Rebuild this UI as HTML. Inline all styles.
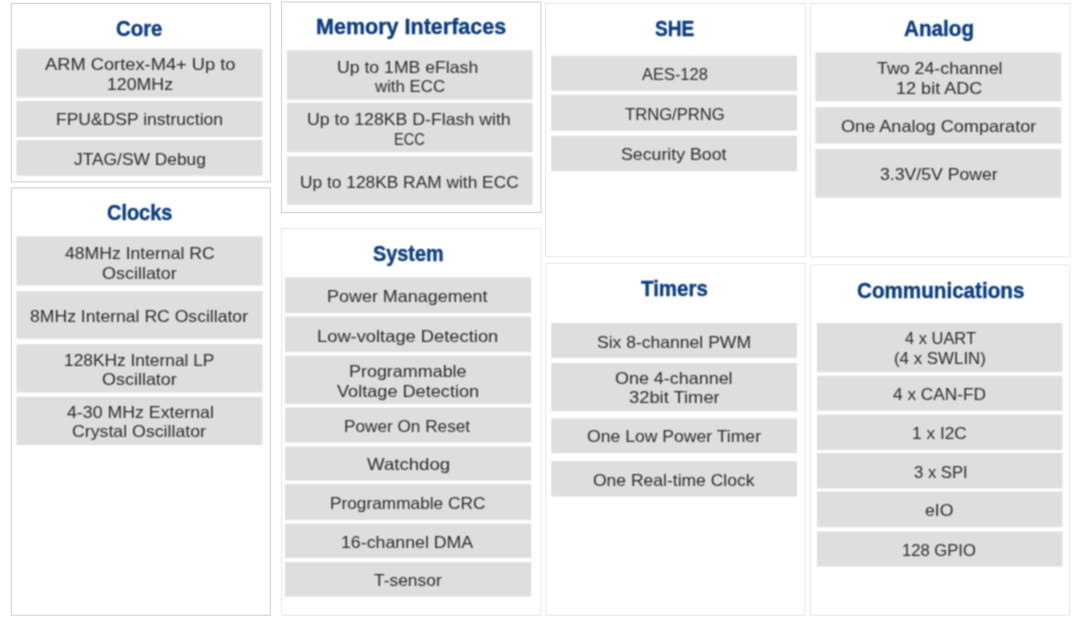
<!DOCTYPE html>
<html lang="en"><head><meta charset="utf-8">
<title>MCU feature block diagram</title>
<style>
html,body{margin:0;padding:0;background:#fff;}
body{width:1080px;height:621px;position:relative;overflow:hidden;font-family:"Liberation Sans",sans-serif;}
#stage{filter:url(#soft);}
#stage{position:absolute;left:0;top:0;width:1080px;height:621px;background:#fff;}
#shapes,#frames{position:absolute;left:0;top:0;}
section,h2,p,span{margin:0;padding:0;}
h2,.l{position:absolute;white-space:nowrap;transform-origin:0 0;display:block;}
h2{font-size:21.5px;line-height:26.0px;font-weight:bold;color:#0a3c7e;-webkit-text-stroke:0.35px #0a3c7e;}
.l{font-size:16.5px;line-height:20.0px;color:#2c2c2c;}
</style></head><body>
<svg width="0" height="0" style="position:absolute" aria-hidden="true"><defs><filter id="soft" x="0" y="0" width="100%" height="100%" color-interpolation-filters="sRGB"><feConvolveMatrix order="3" kernelMatrix="1 2 1 2 4 2 1 2 1" divisor="16" edgeMode="duplicate" preserveAlpha="true"/></filter></defs></svg>
<div id="stage">
<svg id="shapes" width="1080" height="621" viewBox="0 0 1080 621">
<rect x="16.5" y="48.75" width="246" height="48.75" fill="#dedede"/>
<rect x="16.5" y="101" width="246" height="36" fill="#dedede"/>
<rect x="16.5" y="140" width="246" height="35.75" fill="#dedede"/>
<rect x="16.5" y="236.25" width="246" height="49.25" fill="#dedede"/>
<rect x="16.5" y="291.25" width="246" height="47.5" fill="#dedede"/>
<rect x="16.5" y="344.25" width="246" height="48.25" fill="#dedede"/>
<rect x="16.5" y="396.75" width="246" height="48.25" fill="#dedede"/>
<rect x="287" y="50.2" width="245.5" height="49.5" fill="#dedede"/>
<rect x="287" y="102.8" width="245.5" height="49.4" fill="#dedede"/>
<rect x="287" y="156.3" width="245.5" height="48.5" fill="#dedede"/>
<rect x="285" y="277.5" width="246.25" height="35.5" fill="#dedede"/>
<rect x="285" y="316.5" width="246.25" height="35.5" fill="#dedede"/>
<rect x="285" y="355.5" width="246.25" height="48.5" fill="#dedede"/>
<rect x="285" y="407.5" width="246.25" height="35" fill="#dedede"/>
<rect x="285" y="446.5" width="246.25" height="34" fill="#dedede"/>
<rect x="285" y="484" width="246.25" height="36" fill="#dedede"/>
<rect x="285" y="523.5" width="246.25" height="34.5" fill="#dedede"/>
<rect x="285" y="562" width="246.25" height="34.5" fill="#dedede"/>
<rect x="551.25" y="55.7" width="245.75" height="35.1" fill="#dedede"/>
<rect x="551.25" y="94.7" width="245.75" height="36" fill="#dedede"/>
<rect x="551.25" y="135.8" width="245.75" height="35.4" fill="#dedede"/>
<rect x="551.25" y="323" width="245.75" height="35" fill="#dedede"/>
<rect x="551.25" y="363" width="245.75" height="48.25" fill="#dedede"/>
<rect x="551.25" y="418.4" width="245.75" height="34.8" fill="#dedede"/>
<rect x="551.25" y="461" width="245.75" height="35.5" fill="#dedede"/>
<rect x="815.5" y="52.5" width="245.75" height="48.75" fill="#dedede"/>
<rect x="815.5" y="107.1" width="245.75" height="36.4" fill="#dedede"/>
<rect x="815.5" y="148.9" width="245.75" height="48.9" fill="#dedede"/>
<rect x="817" y="323" width="245.5" height="49" fill="#dedede"/>
<rect x="817" y="375.75" width="245.5" height="35" fill="#dedede"/>
<rect x="817" y="414.5" width="245.5" height="35.5" fill="#dedede"/>
<rect x="817" y="453" width="245.5" height="35.5" fill="#dedede"/>
<rect x="817" y="491.5" width="245.5" height="35.75" fill="#dedede"/>
<rect x="817" y="531.5" width="245.5" height="35" fill="#dedede"/>
</svg>
<section aria-label="Core">
<h2 style="left:116.05px;top:15.8px;transform:scaleX(0.9479)">Core</h2>
<p>
<span class="l" style="left:45px;top:53.78px;transform:scaleX(1.1082)">ARM Cortex-M4+ Up to</span>
<span class="l" style="left:106.92px;top:73.78px;transform:scaleX(1.0750)">120MHz</span>
</p>
<p>
<span class="l" style="left:55.94px;top:108.53px;transform:scaleX(1.0609)">FPU&amp;DSP instruction</span>
</p>
<p>
<span class="l" style="left:73.97px;top:148.78px;transform:scaleX(1.0524)">JTAG/SW Debug</span>
</p>
</section>
<section aria-label="Clocks">
<h2 style="left:107.07px;top:200.05px;transform:scaleX(0.9275)">Clocks</h2>
<p>
<span class="l" style="left:64.97px;top:242.53px;transform:scaleX(1.0665)">48MHz Internal RC</span>
<span class="l" style="left:101.91px;top:262.53px;transform:scaleX(1.0882)">Oscillator</span>
</p>
<p>
<span class="l" style="left:29.97px;top:306.28px;transform:scaleX(1.0662)">8MHz Internal RC Oscillator</span>
</p>
<p>
<span class="l" style="left:63.92px;top:349.78px;transform:scaleX(1.0514)">128KHz Internal LP</span>
<span class="l" style="left:101.91px;top:369.28px;transform:scaleX(1.0882)">Oscillator</span>
</p>
<p>
<span class="l" style="left:66.52px;top:401.78px;transform:scaleX(1.0754)">4-30 MHz External</span>
<span class="l" style="left:71.93px;top:421.28px;transform:scaleX(1.0746)">Crystal Oscillator</span>
</p>
</section>
<section aria-label="Memory Interfaces">
<h2 style="left:316px;top:13.8px;transform:scaleX(1.0013)">Memory Interfaces</h2>
<p>
<span class="l" style="left:336.93px;top:56.78px;transform:scaleX(1.0692)">Up to 1MB eFlash</span>
<span class="l" style="left:375px;top:76.28px;transform:scaleX(1.0184)">with ECC</span>
</p>
<p>
<span class="l" style="left:307.41px;top:108.53px;transform:scaleX(1.0731)">Up to 128KB D-Flash with</span>
<span class="l" style="left:394.11px;top:128.53px;transform:scaleX(0.8864)">ECC</span>
</p>
<p>
<span class="l" style="left:300.46px;top:171.78px;transform:scaleX(1.0507)">Up to 128KB RAM with ECC</span>
</p>
</section>
<section aria-label="System">
<h2 style="left:373px;top:240.8px;transform:scaleX(0.9243)">System</h2>
<p>
<span class="l" style="left:327.39px;top:286.28px;transform:scaleX(1.0873)">Power Management</span>
</p>
<p>
<span class="l" style="left:317.36px;top:325.53px;transform:scaleX(1.1102)">Low-voltage Detection</span>
</p>
<p>
<span class="l" style="left:348.91px;top:360.53px;transform:scaleX(1.0864)">Programmable</span>
<span class="l" style="left:337px;top:380.53px;transform:scaleX(1.0988)">Voltage Detection</span>
</p>
<p>
<span class="l" style="left:344.45px;top:415.53px;transform:scaleX(1.0417)">Power On Reset</span>
</p>
<p>
<span class="l" style="left:366.94px;top:454.28px;transform:scaleX(1.1285)">Watchdog</span>
</p>
<p>
<span class="l" style="left:330.47px;top:492.78px;transform:scaleX(1.0459)">Programmable CRC</span>
</p>
<p>
<span class="l" style="left:340.89px;top:531.53px;transform:scaleX(1.0758)">16-channel DMA</span>
</p>
<p>
<span class="l" style="left:373.97px;top:570.28px;transform:scaleX(1.0547)">T-sensor</span>
</p>
</section>
<section aria-label="SHE">
<h2 style="left:655.06px;top:15.8px;transform:scaleX(0.8895)">SHE</h2>
<p>
<span class="l" style="left:641.5px;top:64.28px;transform:scaleX(0.9962)">AES-128</span>
</p>
<p>
<span class="l" style="left:625px;top:103.78px;transform:scaleX(1.0077)">TRNG/PRNG</span>
</p>
<p>
<span class="l" style="left:620.93px;top:144.28px;transform:scaleX(1.0747)">Security Boot</span>
</p>
</section>
<section aria-label="Timers">
<h2 style="left:641.49px;top:275.8px;transform:scaleX(0.9536)">Timers</h2>
<p>
<span class="l" style="left:596.94px;top:331.78px;transform:scaleX(1.0629)">Six 8-channel PWM</span>
</p>
<p>
<span class="l" style="left:615.44px;top:368.03px;transform:scaleX(1.0864)">One 4-channel</span>
<span class="l" style="left:628.94px;top:387.28px;transform:scaleX(1.1111)">32bit Timer</span>
</p>
<p>
<span class="l" style="left:586.97px;top:426.28px;transform:scaleX(1.0660)">One Low Power Timer</span>
</p>
<p>
<span class="l" style="left:593.48px;top:469.78px;transform:scaleX(1.0609)">One Real-time Clock</span>
</p>
</section>
<section aria-label="Analog">
<h2 style="left:904.02px;top:15.8px;transform:scaleX(0.9618)">Analog</h2>
<p>
<span class="l" style="left:876.52px;top:58.03px;transform:scaleX(1.0776)">Two 24-channel</span>
<span class="l" style="left:895.91px;top:77.53px;transform:scaleX(1.0942)">12 bit ADC</span>
</p>
<p>
<span class="l" style="left:840.9px;top:116.03px;transform:scaleX(1.0975)">One Analog Comparator</span>
</p>
<p>
<span class="l" style="left:879.97px;top:164.28px;transform:scaleX(1.0688)">3.3V/5V Power</span>
</p>
</section>
<section aria-label="Communications">
<h2 style="left:856.51px;top:277.55px;transform:scaleX(0.9598)">Communications</h2>
<p>
<span class="l" style="left:904.5px;top:328.03px;transform:scaleX(0.9965)">4 x UART</span>
<span class="l" style="left:893.98px;top:348.03px;transform:scaleX(1.0227)">(4 x SWLIN)</span>
</p>
<p>
<span class="l" style="left:893.49px;top:384.28px;transform:scaleX(1.0455)">4 x CAN-FD</span>
</p>
<p>
<span class="l" style="left:912.44px;top:423.03px;transform:scaleX(1.0500)">1 x I2C</span>
</p>
<p>
<span class="l" style="left:913.5px;top:461.53px;transform:scaleX(1.0096)">3 x SPI</span>
</p>
<p>
<span class="l" style="left:925.45px;top:500.28px;transform:scaleX(1.0700)">eIO</span>
</p>
<p>
<span class="l" style="left:902.49px;top:539.53px;transform:scaleX(1.0069)">128 GPIO</span>
</p>
</section>
</div>
<svg id="frames" width="1080" height="621" viewBox="0 0 1080 621" fill="none">
<rect x="11.4" y="3.5" width="258.9" height="178.3" stroke="#d6d6d6" stroke-width="1.2"/>
<rect x="11.4" y="187.9" width="258.9" height="427.35" stroke="#d6d6d6" stroke-width="1.2"/>
<rect x="281.5" y="2" width="259.4" height="210.5" stroke="#d6d6d6" stroke-width="1.2"/>
<rect x="281.5" y="228.3" width="259.4" height="386.95" stroke="#ececec" stroke-width="1.2"/>
<rect x="545.6" y="3.6" width="260" height="253.3" stroke="#ececec" stroke-width="1.2"/>
<rect x="545.8" y="263.4" width="259.4" height="351.85" stroke="#ececec" stroke-width="1.2"/>
<rect x="810.3" y="3.6" width="259.7" height="253.3" stroke="#ececec" stroke-width="1.2"/>
<rect x="810.3" y="265" width="259.2" height="350.25" stroke="#ececec" stroke-width="1.2"/>
</svg>
</body></html>
